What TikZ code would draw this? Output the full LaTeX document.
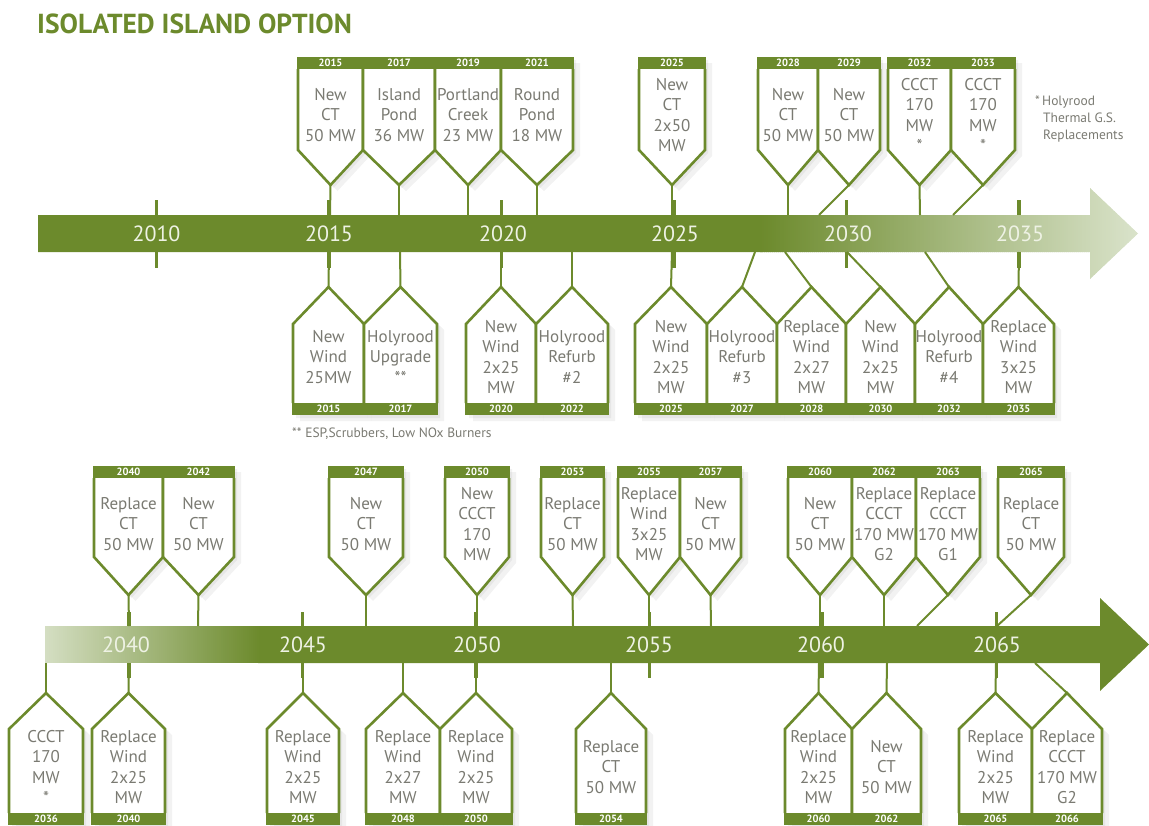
\documentclass[tikz,border=0pt]{standalone}
\usepackage{fontspec}
\setmainfont{PT Sans}
\definecolor{G}{RGB}{108,138,44}
\definecolor{Glight}{RGB}{218,227,203}
\definecolor{Gleft}{RGB}{212,222,194}
\definecolor{txt}{RGB}{122,122,114}
\definecolor{axl}{RGB}{238,242,228}
\tikzset{
  boxline/.style={draw=G, line width=2.6pt, fill=white, line join=miter},
  boxshadow/.style={fill=black, opacity=0.05},
  conn/.style={draw=G, line width=2pt},
  tickmark/.style={draw=G, line width=3.5pt},
  yr/.style={text=white, font=\bfseries\fontsize{10.5}{11}\selectfont, inner sep=0pt},
  boxtxt/.style={text=txt, align=center, inner sep=0pt, font=\fontsize{17}{20.5}\selectfont},
  axlab/.style={text=axl, inner sep=0pt, font=\fontsize{22}{24}\selectfont},
  note/.style={text=txt, inner sep=0pt, font=\fontsize{13.5}{17}\selectfont},
  ttl/.style={text=G, inner sep=0pt, font=\bfseries\fontsize{27.5}{30}\selectfont}
}
% row parameters: band inner edge, band outer edge, shoulder, apex, text centre, bar edge
\newcommand\setrow[6]{\def\rBI{#1}\def\rBO{#2}\def\rSH{#3}\def\rAP{#4}\def\rTC{#5}\def\rBE{#6}}
% box: name, left, right, year, text, bar x
\newcommand\tbox[6]{%
  \pgfmathsetmacro\bxM{(#2+#3)/2}%
  \pgfmathsetmacro\bxY{(\rBI+\rBO)/2}%
  \fill[boxshadow, shift={(3,3)}] (#2,\rBO) -- (#2,\rSH) -- (\bxM,\rAP) -- (#3,\rSH) -- (#3,\rBO) -- cycle;
  \fill[boxshadow, shift={(7,6)}] (#2,\rBO) -- (#2,\rSH) -- (\bxM,\rAP) -- (#3,\rSH) -- (#3,\rBO) -- cycle;
  \draw[boxline] (#2,\rBI) -- (#2,\rSH) -- (\bxM,\rAP) -- (#3,\rSH) -- (#3,\rBI);
  \fill[G] (#2-1.3,\rBI) rectangle (#3+1.3,\rBO);
  \node[yr] (#1y) at (\bxM,\bxY) {#4};
  \node[boxtxt] (#1) at (\bxM,\rTC) {#5};
  \coordinate (#1a) at (\bxM,\rAP);
  \coordinate (#1b) at (#6,\rBE);
  \draw[conn] (#1a) -- (#1b);
}
\begin{document}
\begin{tikzpicture}[x=1pt,y=-1pt]
\useasboundingbox (0,0) rectangle (1149,825);
\node[ttl, anchor=west] (title) at (37,24) {ISOLATED ISLAND OPTION};

% ---- top timeline ----
\begin{scope}
  \clip (38,215) -- (1090,215) -- (1090,188) -- (1138,233.5) -- (1090,279) -- (1090,252) -- (38,252) -- cycle;
  \fill[G] (38,185) rectangle (762,285);
  \foreach \i in {0,...,189}{
    \pgfmathsetmacro\pc{100-\i*0.529}
    \fill[G!\pc!Glight] (760+2*\i,185) rectangle (763+2*\i,285);
  }
\end{scope}
\foreach \x in {156.5,329,501.5,674,846.5,1019}{
  \draw[tickmark] (\x,200) -- (\x,215);
  \draw[tickmark] (\x,252) -- (\x,268);
}
\node[axlab] (a2010) at (156.5,234) {2010};
\node[axlab] (a2015) at (329,234) {2015};
\node[axlab] (a2020) at (503,234) {2020};
\node[axlab] (a2025) at (675,234) {2025};
\node[axlab] (a2030) at (848,234) {2030};
\node[axlab] (a2035) at (1020,234) {2035};

% ---- bottom timeline ----
\fill[G] (258,626) -- (1100,626) -- (1100,598) -- (1149,644.5) -- (1100,691) -- (1100,663) -- (258,663) -- cycle;
\foreach \i in {0,...,107}{
  \pgfmathsetmacro\pc{\i*0.9346}
  \fill[G!\pc!Gleft] (45+2*\i,626) rectangle (48+2*\i,663);
}
\foreach \x in {129,302.5,476,649.5,822,996.5}{
  \draw[tickmark] (\x,612) -- (\x,626);
  \draw[tickmark] (\x,663) -- (\x,678);
}
\node[axlab] (a2040) at (126,645) {2040};
\node[axlab] (a2045) at (303,645) {2045};
\node[axlab] (a2050) at (477,645) {2050};
\node[axlab] (a2055) at (649,645) {2055};
\node[axlab] (a2060) at (821,645) {2060};
\node[axlab] (a2065) at (997,645) {2065};

% ---- row 1, above ----
\setrow{69}{57}{150}{185}{115}{215}
\tbox{t15}{298}{363}{2015}{New\\CT\\50 MW}{330}
\tbox{t17}{363}{435}{2017}{Island\\Pond\\36 MW}{399}
\tbox{t19}{435}{501}{2019}{Portland\\Creek\\23 MW}{468}
\tbox{t21}{501}{573}{2021}{Round\\Pond\\18 MW}{537}
\tbox{t25}{639}{705}{2025}{New\\CT\\2x50\\MW}{672}
\tbox{t28}{758}{818}{2028}{New\\CT\\50 MW}{788}
\tbox{t29}{818}{880}{2029}{New\\CT\\50 MW}{819}
\tbox{t32}{888}{951}{2032}{CCCT\\170\\MW\\*}{920}
\tbox{t33}{951}{1015}{2033}{CCCT\\170\\MW\\*}{953}

% ---- row 1, below ----
\setrow{403}{415}{324}{287}{357}{252}
\tbox{b15}{293}{364}{2015}{New\\Wind\\25MW}{329}
\tbox{b17}{364}{437}{2017}{Holyrood\\Upgrade\\**}{400}
\tbox{b20}{466}{536}{2020}{New\\Wind\\2x25\\MW}{501}
\tbox{b22}{536}{608}{2022}{Holyrood\\Refurb\\\#2}{572}
\tbox{b25}{635}{707}{2025}{New\\Wind\\2x25\\MW}{672}
\tbox{b27}{707}{777}{2027}{Holyrood\\Refurb\\\#3}{755}
\tbox{b28}{777}{846}{2028}{Replace\\Wind\\2x27\\MW}{785}
\tbox{b30}{846}{915}{2030}{New\\Wind\\2x25\\MW}{847}
\tbox{b32}{915}{983}{2032}{Holyrood\\Refurb\\\#4}{925}
\tbox{b35}{983}{1054}{2035}{Replace\\Wind\\3x25\\MW}{1019}

% ---- row 2, above ----
\setrow{478}{466}{557}{595}{524}{626}
\tbox{u40}{94}{163}{2040}{Replace\\CT\\50 MW}{129}
\tbox{u42}{163}{234}{2042}{New\\CT\\50 MW}{198}
\tbox{u47}{329}{403}{2047}{New\\CT\\50 MW}{366}
\tbox{u50}{445}{509}{2050}{New\\CCCT\\170\\MW}{477}
\tbox{u53}{541}{604}{2053}{Replace\\CT\\50 MW}{573}
\tbox{u55}{618}{680}{2055}{Replace\\Wind\\3x25\\MW}{649}
\tbox{u57}{680}{741}{2057}{New\\CT\\50 MW}{711}
\tbox{u60}{788}{852}{2060}{New\\CT\\50 MW}{820}
\tbox{u62}{852}{916}{2062}{Replace\\CCCT\\170 MW\\G2}{884}
\tbox{u63}{916}{980}{2063}{Replace\\CCCT\\170 MW\\G1}{917}
\tbox{u65}{998}{1064}{2065}{Replace\\CT\\50 MW}{997}

% ---- row 2, below ----
\setrow{813}{825}{729}{693}{767}{663}
\tbox{d36}{9}{83}{2036}{CCCT\\170\\MW\\*}{46}
\tbox{d40}{92}{165}{2040}{Replace\\Wind\\2x25\\MW}{129}
\tbox{d45}{267}{339}{2045}{Replace\\Wind\\2x25\\MW}{303}
\tbox{d48}{366}{440}{2048}{Replace\\Wind\\2x27\\MW}{403}
\tbox{d50}{440}{512}{2050}{Replace\\Wind\\2x25\\MW}{476}
\tbox{d54}{576}{646}{2054}{Replace\\CT\\50 MW}{611}
\tbox{d60}{785}{852}{2060}{Replace\\Wind\\2x25\\MW}{819}
\tbox{d62}{852}{921}{2062}{New\\CT\\50 MW}{887}
\tbox{d65}{959}{1032}{2065}{Replace\\Wind\\2x25\\MW}{996}
\tbox{d66}{1032}{1102}{2066}{Replace\\CCCT\\170 MW\\G2}{1035}

% ---- notes ----
\node[note, anchor=north west, align=left] (n1) at (1035,96) {*\,Holyrood\\\hspace*{8pt}Thermal G.S.\\\hspace*{8pt}Replacements};
\node[note, anchor=west] (n2) at (292,434) {** ESP,Scrubbers, Low NOx Burners};
\end{tikzpicture}
\end{document}
